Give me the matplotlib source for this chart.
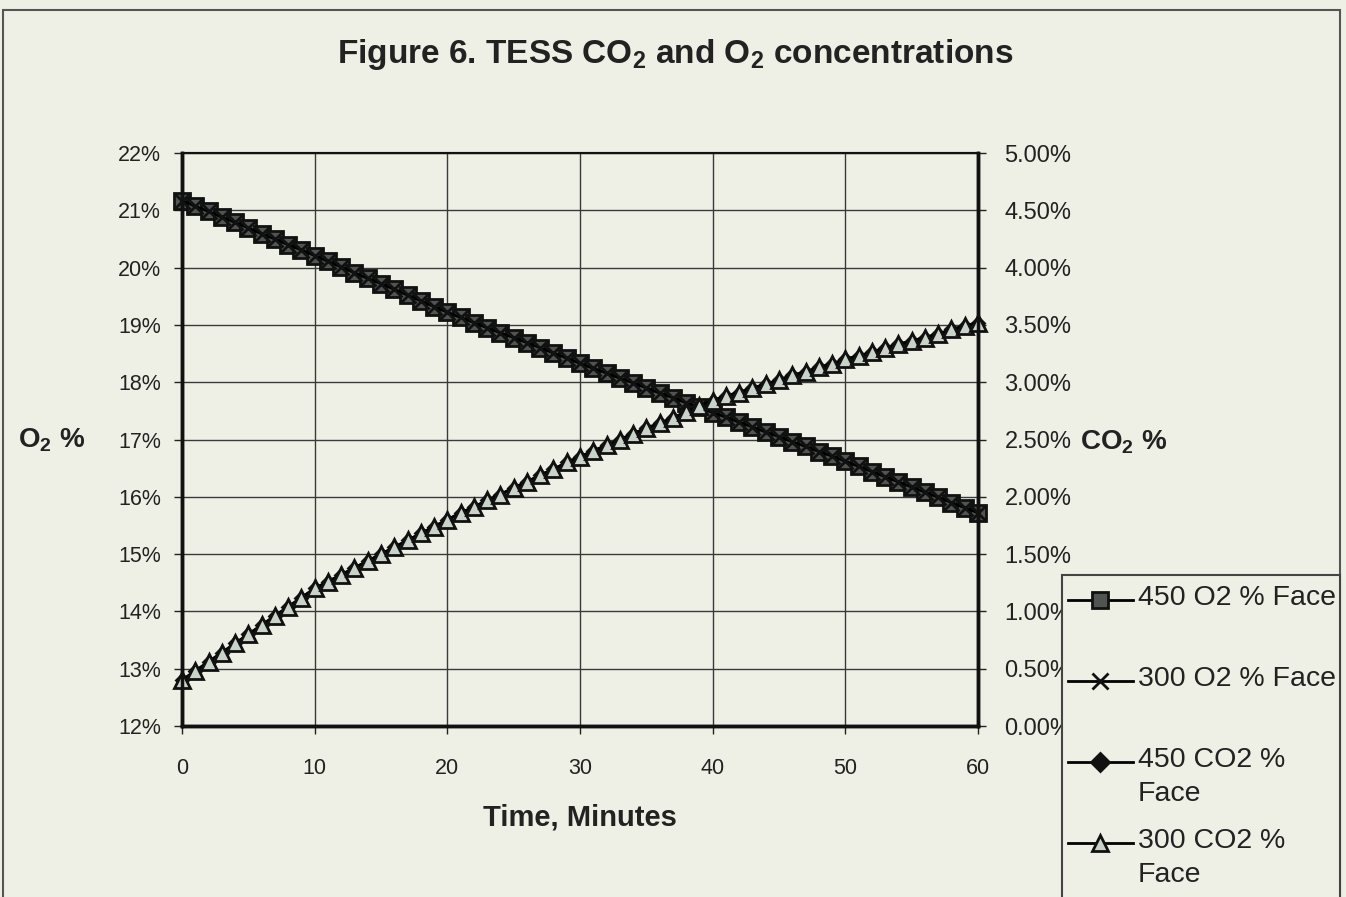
import numpy as np
import matplotlib
matplotlib.use("Agg")
import matplotlib.pyplot as plt
from matplotlib.lines import Line2D
from matplotlib.patches import Rectangle
from matplotlib.ticker import FuncFormatter, MultipleLocator

plt.rcParams['font.family'] = ['Liberation Sans', 'DejaVu Sans']
plt.rcParams['mathtext.default'] = 'regular'

# minutes 0..60
minutes = list(range(61))

# O2 % at the face (both runs lie on top of each other)
o2_450 = [21.17, 21.07, 20.98, 20.88, 20.79, 20.69, 20.59, 20.50, 20.40, 20.31, 20.21,
          20.11, 20.01, 19.91, 19.81, 19.72, 19.62, 19.52, 19.42, 19.32, 19.22,
          19.13, 19.04, 18.95, 18.86, 18.78, 18.69, 18.60, 18.51, 18.42, 18.33,
          18.24, 18.16, 18.07, 17.99, 17.90, 17.81, 17.73, 17.64, 17.56, 17.47,
          17.39, 17.30, 17.22, 17.13, 17.05, 16.96, 16.88, 16.79, 16.71, 16.62,
          16.53, 16.44, 16.35, 16.26, 16.17, 16.08, 15.99, 15.90, 15.81, 15.72]
o2_300 = list(o2_450)

# CO2 % at the face
co2_450 = [0.40, 0.48, 0.56, 0.64, 0.72, 0.80, 0.88, 0.96, 1.04, 1.12, 1.20,
           1.26, 1.32, 1.38, 1.44, 1.50, 1.56, 1.62, 1.68, 1.74, 1.80,
           1.86, 1.91, 1.97, 2.02, 2.08, 2.13, 2.19, 2.24, 2.30, 2.35,
           2.40, 2.45, 2.50, 2.55, 2.60, 2.64, 2.69, 2.74, 2.79, 2.84,
           2.88, 2.91, 2.95, 2.98, 3.02, 3.06, 3.09, 3.13, 3.16, 3.20,
           3.23, 3.26, 3.30, 3.33, 3.36, 3.39, 3.42, 3.46, 3.49, 3.52]
co2_300 = list(co2_450)

labels = ['450 O2 % Face', '300 O2 % Face', '450 CO2 %\nFace', '300 CO2 %\nFace']

bg = '#eeefe5'
ink = '#222222'
W, H = 1346, 897
fig = plt.figure(figsize=(W / 100, H / 100), dpi=100, facecolor=bg)

def fx(px):
    return px / W

def fy(py):
    return 1 - py / H

ax = fig.add_axes([fx(182), fy(726), fx(978) - fx(182), fy(153) - fy(726)])
ax.set_facecolor(bg)
ax2 = ax.twinx()

sty = dict(color='black', lw=2, markersize=11, markeredgewidth=2, clip_on=False)
ax.plot(minutes, o2_450, marker='s', markerfacecolor='#4f5551', markeredgecolor='#111111', **sty)
ax.plot(minutes, o2_300, marker='x', markeredgecolor='#111111', **sty)
ax2.plot(minutes, co2_450, marker='D', markerfacecolor='#111111', markeredgecolor='#111111',
         **dict(sty, markersize=6))
ax2.plot(minutes, co2_300, marker='^', markerfacecolor='#c9d3c9', markeredgecolor='#111111', **sty)

ax.set_xlim(0, 60)
ax.set_ylim(12, 22)
ax2.set_ylim(0, 5)
ax.xaxis.set_major_locator(MultipleLocator(10))
ax.yaxis.set_major_locator(MultipleLocator(1))
ax2.yaxis.set_major_locator(MultipleLocator(0.5))
ax.yaxis.set_major_formatter(FuncFormatter(lambda v, p: '%d%%' % round(v)))
ax2.yaxis.set_major_formatter(FuncFormatter(lambda v, p: '%.2f%%' % v))

ax.grid(True, color='#3a3a3a', lw=1)
ax.set_axisbelow(True)
for a in (ax, ax2):
    for s in a.spines.values():
        s.set_color('#111111')
        s.set_linewidth(2.5)
    a.spines['top'].set_linewidth(1.5)
ax.tick_params(axis='x', length=6, width=1, pad=17, labelsize=15.5, colors=ink)
ax.tick_params(axis='y', length=6, width=1, pad=9, labelsize=15.5, colors=ink)
ax2.tick_params(axis='y', length=6, width=1, pad=13, labelsize=17, colors=ink)

fig.text(fx(675), fy(55), r'Figure 6. TESS CO$_2$ and O$_2$ concentrations',
         ha='center', va='center', fontsize=24, fontweight='bold', color=ink)
fig.text(fx(580), fy(817), 'Time, Minutes', ha='center', va='center',
         fontsize=21, fontweight='bold', color=ink)
fig.text(fx(52), fy(440), r'O$_2$ %', ha='center', va='center',
         fontsize=20, fontweight='bold', color=ink)
fig.text(fx(1124), fy(442), r'CO$_2$ %', ha='center', va='center',
         fontsize=20, fontweight='bold', color=ink)

# outer frame of the chart
fig.add_artist(Rectangle((fx(3), -0.01), fx(1340) - fx(3), fy(10) + 0.01,
                         transform=fig.transFigure, fill=False, ec='#555555', lw=1.5))

# legend drawn by hand to get the overflowing two-line labels
fig.add_artist(Rectangle((fx(1062), -0.01), fx(1340) - fx(1062), fy(575) + 0.01,
                         transform=fig.transFigure, fc=bg, ec='#444444', lw=1.5))
leg_y = [600, 681, 762, 843]
leg_mk = [dict(marker='s', markerfacecolor='#4f5551', markersize=11),
          dict(marker='x', markersize=11),
          dict(marker='D', markerfacecolor='#111111', markersize=9),
          dict(marker='^', markerfacecolor='#c9d3c9', markersize=11)]
for yy, lab, mk in zip(leg_y, labels, leg_mk):
    fig.add_artist(Line2D([fx(1068), fx(1133)], [fy(yy), fy(yy)], transform=fig.transFigure,
                          color='black', lw=2))
    fig.add_artist(Line2D([fx(1100)], [fy(yy)], transform=fig.transFigure, color='black',
                          markeredgecolor='#111111', markeredgewidth=2, **mk))
    fig.text(fx(1138), fy(yy - 15), lab, ha='left', va='top', fontsize=20.5,
             color=ink, linespacing=1.4)

fig.savefig('out.png', dpi=100, facecolor=bg)
